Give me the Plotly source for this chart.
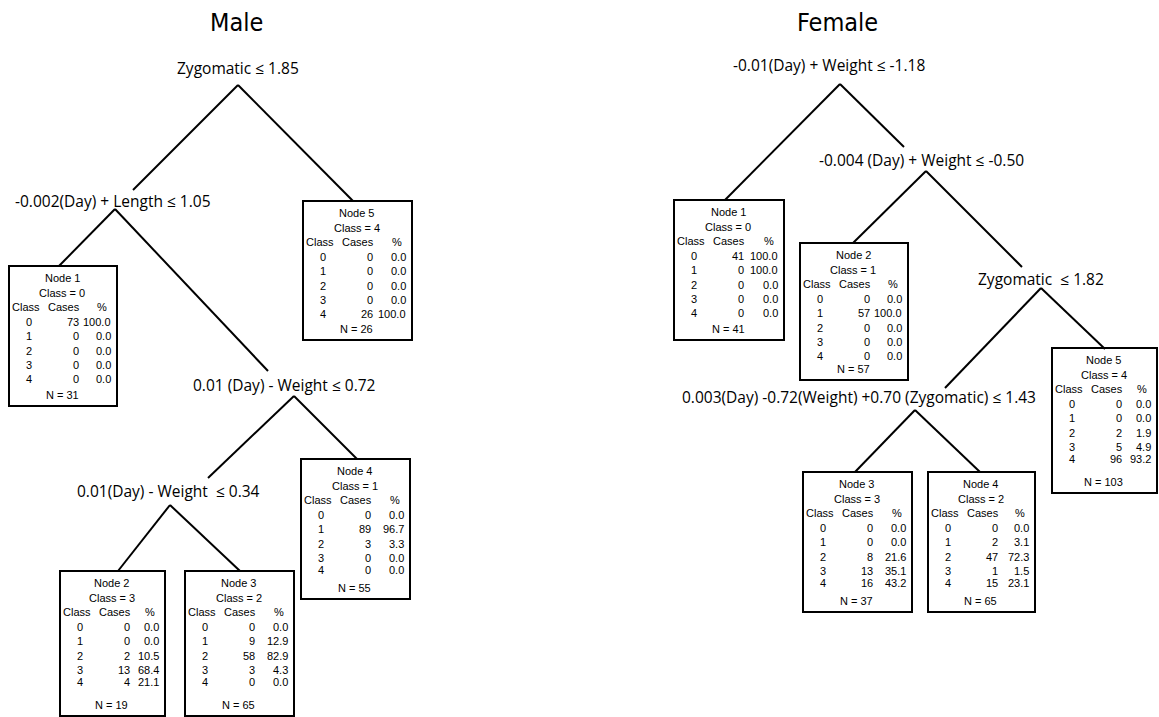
import plotly.graph_objects as go

# ---------------- data ----------------
class_ids = [0, 1, 2, 3, 4]

male_splits = ["Zygomatic ≤ 1.85", "-0.002(Day) + Length ≤ 1.05",
               "0.01 (Day) - Weight ≤ 0.72", "0.01(Day) - Weight\u00a0 ≤ 0.34"]
male_nodes = ["Node 1", "Node 2", "Node 3", "Node 4", "Node 5"]
male_pred = [0, 3, 2, 1, 4]
male_cases = [[73, 0, 0, 0, 0], [0, 0, 2, 13, 4], [0, 9, 58, 3, 0],
              [0, 89, 3, 0, 0], [0, 0, 0, 0, 26]]
male_pct = [[100.0, 0.0, 0.0, 0.0, 0.0], [0.0, 0.0, 10.5, 68.4, 21.1],
            [0.0, 12.9, 82.9, 4.3, 0.0], [0.0, 96.7, 3.3, 0.0, 0.0],
            [0.0, 0.0, 0.0, 0.0, 100.0]]
male_n = [31, 19, 65, 55, 26]

female_splits = ["-0.01(Day) + Weight ≤ -1.18", "-0.004 (Day) + Weight ≤ -0.50",
                 "Zygomatic\u00a0 ≤ 1.82",
                 "0.003(Day) -0.72(Weight) +0.70 (Zygomatic) ≤ 1.43"]
female_nodes = ["Node 1", "Node 2", "Node 3", "Node 4", "Node 5"]
female_pred = [0, 1, 3, 2, 4]
female_cases = [[41, 0, 0, 0, 0], [0, 57, 0, 0, 0], [0, 0, 8, 13, 16],
                [0, 2, 47, 1, 15], [0, 0, 2, 5, 96]]
female_pct = [[100.0, 100.0, 0.0, 0.0, 0.0], [0.0, 100.0, 0.0, 0.0, 0.0],
              [0.0, 0.0, 21.6, 35.1, 43.2], [0.0, 3.1, 72.3, 1.5, 23.1],
              [0.0, 0.0, 1.9, 4.9, 93.2]]
female_n = [41, 57, 37, 65, 103]

titles = ["Male", "Female"]

# ---------------- layout (positions, px) ----------------
W, H = 1159, 717
title_pos = [(236, 22), (837, 22)]

male_split_pos = [(238, 68), (113, 201), (284, 385), (168, 491)]
female_split_pos = [(829, 65), (921, 160), (1041, 279), (859, 397)]

# boxes: left, top, right, bottom ; squish = row 4 close to row 3
male_boxes = [(9, 266, 117, 406), (60, 571, 165, 716), (185, 571, 294, 716),
              (301, 459, 410, 599), (303, 201, 412, 340)]
male_squish = [False, True, True, True, False]
female_boxes = [(674, 200, 784, 340), (800, 243, 908, 380), (803, 472, 912, 612),
                (928, 472, 1035, 612), (1052, 348, 1157, 493)]
female_squish = [False, False, True, True, True]

male_edges = [((238, 85), (133, 190)), ((238, 85), (353, 201)),
              ((115, 209), (59, 266)), ((115, 209), (268, 371)),
              ((294, 396), (208, 478)), ((294, 396), (357, 459)),
              ((170, 505), (118, 571)), ((170, 505), (240, 571))]
female_edges = [((840, 84), (725, 200)), ((840, 84), (904, 147)),
                ((926, 171), (853, 243)), ((926, 171), (1022, 267)),
                ((1041, 288), (945, 388)), ((1041, 288), (1105, 349)),
                ((915, 410), (855, 472)), ((915, 410), (980, 472))]

SPLIT_FONT = dict(family="Open Sans, Noto Sans, sans-serif", size=15.5, color="black")
BOX_FONT = dict(family="Liberation Sans, Arial, sans-serif", size=11, color="black")
TITLE_FONT = dict(family="Liberation Sans Narrow, DejaVu Sans Condensed, Open Sans, sans-serif",
                  size=25, color="black")

fig = go.Figure()
annotations = []
shapes = []


def txt(x, y, s, font, anchor="center"):
    annotations.append(dict(x=x, y=y, xref="x", yref="y", text=s, showarrow=False,
                            xanchor=anchor, yanchor="middle", font=font))


# edges
ex, ey = [], []
for edges in (male_edges, female_edges):
    for (x0, y0), (x1, y1) in edges:
        ex += [x0, x1, None]
        ey += [y0, y1, None]
fig.add_trace(go.Scatter(x=ex, y=ey, mode="lines", line=dict(color="black", width=2),
                         hoverinfo="skip", showlegend=False))

# titles & split labels
for t, (x, y) in zip(titles, title_pos):
    txt(x, y, t, TITLE_FONT)
for splits, pos in ((male_splits, male_split_pos), (female_splits, female_split_pos)):
    for s, (x, y) in zip(splits, pos):
        txt(x, y, s, SPLIT_FONT)


# node boxes
def draw_nodes(nodes, pred, cases, pct, ns, boxes, squish):
    for i, name in enumerate(nodes):
        L, T, R, B = boxes[i]
        shapes.append(dict(type="rect", xref="x", yref="y", x0=L, y0=T, x1=R, y1=B,
                           line=dict(color="black", width=2), fillcolor="white",
                           layer="below"))
        cx = (L + R) / 2 - 1
        txt(cx, T + 12, name, BOX_FONT)
        txt(cx, T + 27, f"Class = {pred[i]}", BOX_FONT)
        hy = T + 41
        txt(L + 1, hy, "Class", BOX_FONT, "left")
        txt(L + 73, hy, "Cases", BOX_FONT, "right")
        txt(R - 15, hy, "%", BOX_FONT)
        for j, c in enumerate(class_ids):
            if squish[i] and j == 4:
                y = T + 56 + 14.3 * 3 + 12
            else:
                y = T + 56 + 14.3 * j
            txt(L + 20, y, str(c), BOX_FONT)
            txt(L + 72, y, str(cases[i][j]), BOX_FONT, "right")
            txt(R - 4, y, f"{pct[i][j]:.1f}", BOX_FONT, "right")
        txt(cx, B - 11, f"N = {ns[i]}", BOX_FONT)


draw_nodes(male_nodes, male_pred, male_cases, male_pct, male_n, male_boxes, male_squish)
draw_nodes(female_nodes, female_pred, female_cases, female_pct, female_n,
           female_boxes, female_squish)

fig.update_layout(
    width=W, height=H, margin=dict(l=0, r=0, t=0, b=0),
    paper_bgcolor="white", plot_bgcolor="white",
    xaxis=dict(range=[0, W], visible=False, fixedrange=True),
    yaxis=dict(range=[H, 0], visible=False, fixedrange=True),
    annotations=annotations, shapes=shapes, showlegend=False,
)

fig.write_html("out.html", config={"displayModeBar": False},
               post_script="document.body.style.margin='0';document.body.style.padding='0';")
